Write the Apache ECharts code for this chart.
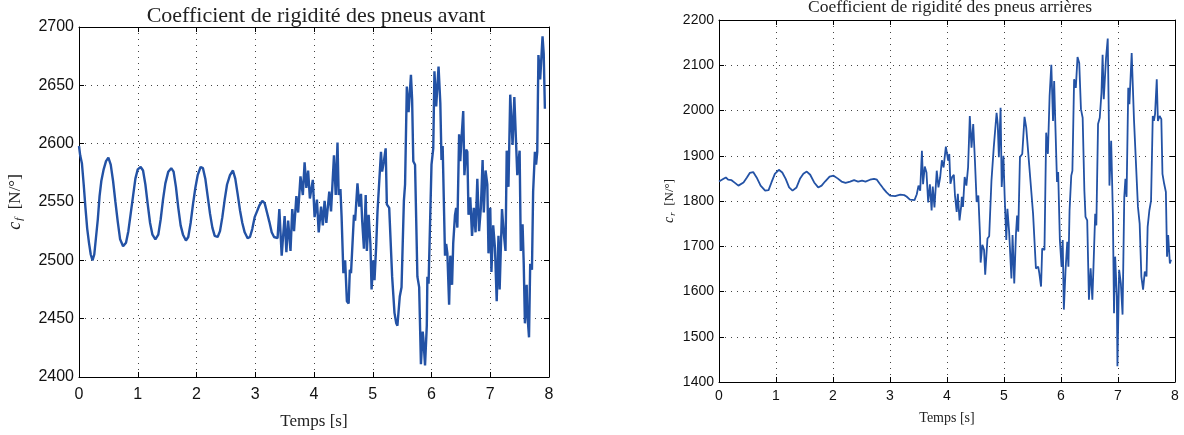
<!DOCTYPE html>
<html>
<head>
<meta charset="utf-8">
<script src="https://cdn.jsdelivr.net/npm/echarts@6/dist/echarts.min.js"></script>
<style>
html,body{margin:0;padding:0;background:#fff;}
#c{width:1184px;height:435px;}
</style>
</head>
<body>
<div id="c"></div>
<script>
// ---- Data ----
var xTicks = [0, 1, 2, 3, 4, 5, 6, 7, 8];
var leftYTicks = [2400, 2450, 2500, 2550, 2600, 2650, 2700];
var rightYTicks = [1400, 1500, 1600, 1700, 1800, 1900, 2000, 2100, 2200];

var leftT = [0.00,0.02,0.05,0.08,0.11,0.14,0.17,0.20,0.23,0.26,0.29,0.32,0.35,0.38,0.42,0.46,0.50,0.54,0.58,0.62,0.66,0.70,0.75,0.80,0.84,0.88,0.92,0.96,1.00,1.05,1.09,1.13,1.17,1.21,1.25,1.30,1.35,1.39,1.43,1.47,1.52,1.57,1.61,1.65,1.69,1.73,1.77,1.82,1.86,1.90,1.94,1.98,2.02,2.07,2.11,2.15,2.19,2.23,2.27,2.31,2.36,2.40,2.44,2.48,2.52,2.57,2.62,2.66,2.70,2.74,2.78,2.82,2.87,2.91,2.95,2.99,3.03,3.07,3.12,3.16,3.20,3.24,3.28,3.32,
3.35,3.38,3.41,3.45,3.50,3.53,3.56,3.60,3.63,3.66,3.70,3.73,3.77,3.81,3.84,3.87,3.90,3.93,3.98,4.01,4.05,4.08,4.12,4.15,4.18,4.21,4.26,4.29,4.34,4.37,4.40,4.42,4.45,4.47,4.50,4.53,4.56,4.59,4.61,4.63,4.68,4.70,4.74,4.77,4.80,4.82,4.85,4.88,4.90,4.93,4.96,4.98,5.01,5.03,5.06,5.08,5.11,5.14,5.16,5.19,5.22,5.24,5.28,5.33,5.37,5.40,5.42,5.46,5.49,5.53,5.55,5.58,5.61,5.65,5.67,5.69,5.72,5.76,5.79,5.82,5.85,5.86,5.89,5.92,5.93,5.95,6.00,6.03,6.05,6.08,6.12,6.15,6.17,6.19,6.23,6.25,6.27,6.30,6.32,6.35,6.37,6.40,6.42,6.44,6.47,6.49,6.51,6.54,6.56,6.59,6.61,6.63,6.66,6.69,6.72,6.75,6.78,6.81,6.84,6.87,6.89,6.92,6.95,6.97,7.00,7.02,7.05,7.08,7.11,7.14,7.16,7.20,7.23,7.26,7.28,7.31,7.34,7.38,7.41,7.46,7.50,7.52,7.55,7.57,7.59,7.62,7.63,7.66,7.68,7.71,7.73,7.76,7.78,7.80,7.82,7.85,7.89,7.91,7.93];
var leftV = [2598,2590,2583,2565,2545,2527,2515,2505,2500,2505,2520,2535,2555,2568,2578,2585,2588,2582,2568,2550,2533,2518,2512,2515,2525,2540,2555,2570,2578,2580,2577,2565,2548,2532,2522,2518,2522,2535,2552,2566,2576,2579,2576,2563,2545,2530,2522,2517,2520,2532,2548,2562,2573,2580,2579,2570,2555,2540,2528,2521,2520,2525,2537,2552,2565,2573,2577,2570,2557,2543,2532,2524,2519,2520,2527,2537,2542,2547,2551,2549,2541,2533,2524,2520,
2521,2519,2544,2504,2538,2507,2534,2508,2544,2525,2555,2541,2572,2556,2584,2562,2577,2553,2569,2537,2552,2524,2546,2530,2551,2532,2559,2542,2590,2556,2601,2556,2561,2537,2489,2500,2465,2463,2492,2489,2539,2534,2566,2546,2557,2534,2510,2556,2508,2539,2514,2475,2500,2483,2514,2541,2542,2593,2576,2585,2596,2548,2545,2486,2455,2446,2444,2469,2477,2551,2565,2649,2627,2659,2638,2585,2582,2486,2477,2411,2439,2434,2410,2444,2486,2480,2582,2596,2662,2632,2666,2635,2586,2598,2504,2514,2506,2462,2504,2479,2515,2539,2545,2528,2608,2585,2604,2628,2573,2595,2593,2539,2554,2521,2545,2524,2570,2525,2545,2586,2541,2577,2565,2506,2545,2490,2530,2511,2465,2521,2475,2544,2523,2508,2594,2563,2642,2599,2640,2573,2594,2508,2531,2497,2446,2479,2455,2434,2497,2492,2559,2593,2582,2593,2676,2655,2692,2677,2630];

var rightT = [0.00,0.02,0.08,0.12,0.16,0.22,0.28,0.34,0.37,0.43,0.49,0.54,0.60,0.66,0.73,0.81,0.87,0.92,0.98,1.05,1.11,1.17,1.23,1.29,1.36,1.42,1.48,1.54,1.60,1.67,1.74,1.80,1.86,1.94,2.01,2.08,2.15,2.22,2.30,2.37,2.44,2.51,2.57,2.65,2.72,2.77,2.82,2.88,2.94,3.00,3.09,3.18,3.25,3.29,3.35,3.43,3.47,3.50,3.53,3.56,3.58,3.61,3.64,3.67,3.70,3.73,3.75,3.78,3.82,3.85,3.88,3.91,3.94,3.98,
4.02,4.04,4.06,4.09,4.12,4.14,4.17,4.19,4.22,4.25,4.26,4.28,4.31,4.34,4.37,4.40,4.43,4.46,4.49,4.52,4.55,4.58,4.59,4.62,4.65,4.67,4.71,4.74,4.78,4.82,4.87,4.89,4.91,4.94,4.96,4.99,5.01,5.04,5.06,5.09,5.13,5.15,5.18,5.21,5.23,5.25,5.28,5.32,5.36,5.39,5.42,5.51,5.56,5.60,5.62,5.65,5.67,5.71,5.74,5.77,5.80,5.83,5.86,5.88,5.90,5.93,5.95,5.98,6.01,6.03,6.05,6.08,6.11,6.13,6.15,6.18,6.20,6.23,6.26,6.29,6.32,6.35,6.38,6.41,6.43,6.46,6.49,6.52,6.55,6.57,6.60,6.62,6.65,6.68,6.71,6.73,6.75,6.79,6.82,6.84,6.85,6.88,6.91,6.93,6.95,6.98,6.99,7.02,7.05,7.08,7.11,7.13,7.15,7.18,7.20,7.24,7.28,7.31,7.35,7.38,7.41,7.44,7.47,7.50,7.52,7.55,7.58,7.61,7.63,7.65,7.68,7.70,7.73,7.76,7.78,7.81,7.84,7.86,7.88,7.91,7.93];
var rightV = [1843,1845,1849,1852,1847,1846,1840,1834,1830,1841,1852,1862,1864,1852,1834,1823,1824,1841,1860,1869,1863,1849,1830,1823,1830,1849,1860,1865,1858,1841,1830,1834,1843,1854,1856,1850,1843,1840,1843,1846,1843,1845,1843,1847,1849,1847,1838,1828,1819,1812,1811,1814,1813,1810,1803,1802,1815,1834,1823,1911,1837,1876,1863,1797,1837,1779,1832,1786,1867,1830,1852,1890,1874,1920,
1889,1904,1838,1853,1858,1812,1776,1816,1757,1790,1809,1787,1853,1834,1875,1988,1918,1970,1889,1798,1812,1721,1664,1703,1692,1637,1717,1722,1845,1918,1995,1970,1897,2006,1831,1900,1816,1714,1783,1732,1629,1725,1618,1728,1768,1732,1897,1904,1986,1962,1959,1772,1651,1655,1640,1611,1695,1692,1951,1904,2032,2101,1977,2065,1973,1842,1864,1714,1655,1714,1560,1648,1710,1655,1779,1856,1867,2069,2050,2118,2105,2003,1984,1823,1765,1757,1582,1651,1582,1655,1772,1746,1970,1984,2039,2123,2025,2116,2159,1977,1834,1933,1772,1552,1677,1589,1435,1648,1618,1549,1809,1849,1809,2050,2014,2127,1981,1977,1787,1750,1633,1604,1644,1633,1743,1779,1801,1988,1977,1992,2069,1977,1988,1981,1860,1838,1820,1677,1725,1662,1670];

function pairs(t, v) { var a = []; for (var i = 0; i < t.length; i++) a.push([t[i], v[i]]); return a; }

var lineColor = '#2352a5';
var sansFont = '"Liberation Sans", Arial, sans-serif';
var serifFont = '"Liberation Serif", "DejaVu Serif", serif';
function plain(v) { return String(v); }

function gridSplit() { return { show: true, lineStyle: { color: '#444', width: 1, type: [1, 5] } }; }
function axLine() { return { show: true, onZero: false, lineStyle: { color: '#000', width: 1 } }; }

function makeAxes(gi, yTicks, fs, xMargin) {
  var yMin = yTicks[0], yMax = yTicks[yTicks.length - 1], yInt = yTicks[1] - yTicks[0];
  var xs = [
    { type: 'value', gridIndex: gi, position: 'bottom', min: xTicks[0], max: xTicks[xTicks.length - 1], interval: 1,
      axisLine: axLine(), axisTick: { inside: true, length: 5, lineStyle: { color: '#000' } },
      axisLabel: { fontFamily: sansFont, fontSize: fs, color: '#111', margin: xMargin, formatter: plain },
      splitLine: gridSplit(),
      name: 'Temps [s]', nameLocation: 'middle', nameGap: gi === 0 ? 36 : 29,
      nameTextStyle: { fontFamily: serifFont, fontSize: gi === 0 ? 17 : 14, color: '#222' } },
    { type: 'value', gridIndex: gi, position: 'top', min: xTicks[0], max: xTicks[xTicks.length - 1], interval: 1,
      axisLine: axLine(), axisTick: { inside: true, length: 5, lineStyle: { color: '#000' } },
      axisLabel: { show: false }, splitLine: { show: false } }
  ];
  var nameSub = gi === 0 ? 'f' : 'r';
  var ys = [
    { type: 'value', gridIndex: gi, position: 'left', min: yMin, max: yMax, interval: yInt,
      axisLine: axLine(), axisTick: { inside: true, length: 5, lineStyle: { color: '#000' } },
      axisLabel: { fontFamily: sansFont, fontSize: fs, color: '#111', margin: 5, formatter: plain },
      splitLine: gridSplit(),
      name: '{i|c}{s|' + nameSub + '}  [N/°]', nameLocation: 'middle', nameGap: gi === 0 ? 54 : 42,
      nameTextStyle: { fontFamily: serifFont, fontSize: gi === 0 ? 17 : 13, color: '#222',
        rich: {
          i: { fontFamily: serifFont, fontStyle: 'italic', fontSize: gi === 0 ? 18 : 14, color: '#222' },
          s: { fontFamily: serifFont, fontStyle: 'italic', fontSize: gi === 0 ? 11 : 9, color: '#222', padding: [gi === 0 ? 8 : 6, 0, 0, 1] }
        } } },
    { type: 'value', gridIndex: gi, position: 'right', min: yMin, max: yMax, interval: yInt,
      axisLine: axLine(), axisTick: { inside: true, length: 5, lineStyle: { color: '#000' } },
      axisLabel: { show: false }, splitLine: { show: false } }
  ];
  return { xs: xs, ys: ys };
}

var a0 = makeAxes(0, leftYTicks, 16, 10);
var a1 = makeAxes(1, rightYTicks, 14, 7);

var chart = echarts.init(document.getElementById('c'), null, { renderer: 'canvas' });
chart.setOption({
  backgroundColor: '#fff',
  animation: false,
  title: [
    { text: 'Coefficient de rigidité des pneus avant', left: 311, top: 0, textAlign: 'center',
      textStyle: { fontFamily: serifFont, fontSize: 22, fontWeight: 'normal', color: '#222' } },
    { text: 'Coefficient de rigidité des pneus arrières', left: 945, top: -7, textAlign: 'center',
      textStyle: { fontFamily: serifFont, fontSize: 17.5, fontWeight: 'normal', color: '#222' } }
  ],
  grid: [
    { left: 79, top: 27, width: 470, height: 356, containLabel: false },
    { left: 719, top: 20, width: 456, height: 362, containLabel: false }
  ],
  xAxis: a0.xs.concat(a1.xs),
  yAxis: a0.ys.concat(a1.ys),
  series: [
    { type: 'line', xAxisIndex: 0, yAxisIndex: 0, data: pairs(leftT, leftV), showSymbol: false,
      lineStyle: { color: lineColor, width: 2.4 }, smooth: false, clip: true },
    { type: 'line', xAxisIndex: 2, yAxisIndex: 2, data: pairs(rightT, rightV), showSymbol: false,
      lineStyle: { color: lineColor, width: 1.8 }, smooth: false, clip: true }
  ]
});
</script>
</body>
</html>
